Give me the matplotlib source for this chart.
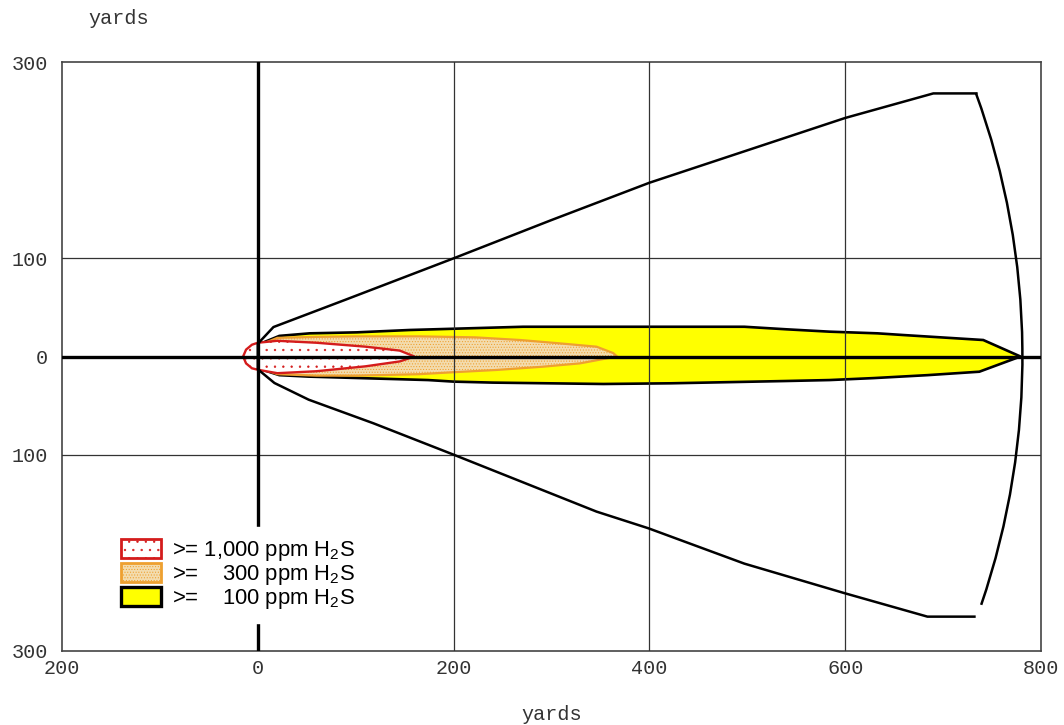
import matplotlib
matplotlib.use("Agg")
import matplotlib.pyplot as plt
from matplotlib.patches import Polygon, Arc, Patch

plt.rcParams["hatch.linewidth"] = 0.45
plt.rcParams["mathtext.fontset"] = "custom"
plt.rcParams["mathtext.rm"] = "Liberation Sans"

# Axis ticks (labels show distance, unsigned)
x_ticks = [-200, 0, 200, 400, 600, 800]
x_tick_labels = ["200", "0", "200", "400", "600", "800"]
y_ticks = [-300, -100, 0, 100, 300]
y_tick_labels = ["300", "100", "0", "100", "300"]
x_grid = [200, 400, 600]
y_grid = [-100, 100]

# Outer envelope (crosswind spread), yards
cone_upper_x = [0, 16, 90, 200, 300, 400, 500, 600, 690, 734]
cone_upper_y = [13, 30, 58, 100, 139, 177, 210, 243, 268, 268]
cone_lower_x = [0, 17, 52, 118, 200, 346, 399, 497, 599, 684, 732]
cone_lower_y = [-13, -27, -44, -68, -100, -158, -175, -211, -241, -265, -265]
arc_radius = 781
arc_theta_start = -18.9
arc_theta_end = 20.1

# >= 100 ppm contour
c100_upper_x = [-5, 0, 22, 53, 101, 155, 271, 400, 497, 540, 584, 633, 659, 741, 779]
c100_upper_y = [0, 12, 21, 23.6, 24.6, 27, 30.3, 30.3, 30.3, 27.7, 25.3, 23.6, 21.9, 16.8, 0]
c100_lower_x = [-5, 0, 22, 52, 174, 200, 240, 353, 422, 538, 584, 629, 684, 737, 779]
c100_lower_y = [0, -12, -19, -20.5, -24, -25.6, -26.6, -28, -27.3, -25, -24, -22, -19, -15.5, 0]

# >= 300 ppm contour
c300_upper_x = [-10, 0, 20, 60, 100, 165, 222, 268, 308, 346, 363, 367]
c300_upper_y = [0, 11, 19, 20, 20.5, 20.5, 19.5, 16.8, 13.4, 10, 3.5, 0]
c300_lower_x = [-10, 0, 20, 60, 100, 165, 200, 244, 291, 329, 356, 367]
c300_lower_y = [0, -11, -18, -19.5, -19.5, -18, -16, -13.7, -10.4, -7, -2, 0]

# >= 1,000 ppm contour
c1000_upper_x = [-15, -12, -6, 0, 20, 60, 110, 145, 160]
c1000_upper_y = [0, 7, 12, 14, 16, 14, 10, 6, 0]
c1000_lower_x = [-15, -12, -6, 0, 20, 60, 110, 145, 160]
c1000_lower_y = [0, -7, -12, -13.5, -17, -15, -10, -5, 0]

legend_labels = [
    r">= 1,000 ppm H$_\mathregular{2}$S",
    r">=    300 ppm H$_\mathregular{2}$S",
    r">=    100 ppm H$_\mathregular{2}$S",
]

RED = "#d41c1c"
ORANGE = "#eea030"
TAN = "#f3dcae"
YELLOW = "#ffff00"


def closed_outline(ux, uy, lx, ly):
    return list(zip(ux, uy)) + list(zip(lx[::-1], ly[::-1]))


fig = plt.figure(figsize=(10.64, 7.25), dpi=100)
ax = fig.add_axes([62 / 1064, 1 - 651 / 725, 979 / 1064, 589 / 725])
ax.set_xlim(-200, 800)
ax.set_ylim(-300, 300)

# Concentration contours
ax.add_patch(Polygon(closed_outline(c100_upper_x, c100_upper_y, c100_lower_x, c100_lower_y),
                     closed=True, facecolor=YELLOW, edgecolor="black", linewidth=1.9, zorder=1))
ax.add_patch(Polygon(closed_outline(c300_upper_x, c300_upper_y, c300_lower_x, c300_lower_y),
                     closed=True, facecolor=TAN, edgecolor=ORANGE, hatch="......",
                     linewidth=1.6, zorder=2))
ax.add_patch(Polygon(closed_outline(c1000_upper_x, c1000_upper_y, c1000_lower_x, c1000_lower_y),
                     closed=True, facecolor="white", edgecolor=RED, hatch="..",
                     linewidth=1.7, zorder=3))

# Grid
for gx in x_grid:
    ax.axvline(gx, color="#333333", linewidth=0.9, zorder=4)
for gy in y_grid:
    ax.axhline(gy, color="#333333", linewidth=0.9, zorder=4)

# Envelope
env_x = cone_upper_x[::-1] + cone_lower_x
env_y = cone_upper_y[::-1] + cone_lower_y
ax.plot(env_x, env_y, color="black", linewidth=1.8, zorder=5)
ax.add_patch(Arc((0, 0), 2 * arc_radius, 2 * arc_radius, theta1=arc_theta_start,
                 theta2=arc_theta_end, color="black", linewidth=1.8, zorder=5))

# Origin axes
ax.axhline(0, color="black", linewidth=2.4, zorder=6)
ax.axvline(0, color="black", linewidth=2.4, zorder=6)

# Ticks
mono = "Liberation Mono"
ax.set_xticks(x_ticks)
ax.set_xticklabels(x_tick_labels, fontfamily=mono, fontsize=14.5)
ax.set_yticks(y_ticks)
ax.set_yticklabels(y_tick_labels, fontfamily=mono, fontsize=14.5)
ax.tick_params(axis="both", length=0, colors="#333333")
ax.tick_params(axis="x", pad=6)
ax.tick_params(axis="y", pad=10)
for s in ax.spines.values():
    s.set_color("#444444")
    s.set_linewidth(1.2)

ax.set_xlabel("yards", fontfamily=mono, fontsize=14.5, labelpad=19, color="#333333")
fig.text(88 / 1064, 1 - 18 / 725, "yards", fontfamily=mono, fontsize=14.5,
         ha="left", va="center", color="#333333")

# Legend
handles = [
    Patch(facecolor="white", edgecolor=RED, hatch="..", linewidth=2.0),
    Patch(facecolor=TAN, edgecolor=ORANGE, hatch="......", linewidth=2.0),
    Patch(facecolor=YELLOW, edgecolor="black", linewidth=2.4),
]
leg = ax.legend(handles, legend_labels, loc="upper left",
                bbox_to_anchor=((98 - 62) / 979, (651 - 516) / 589),
                prop={"family": "Liberation Sans", "size": 15.8},
                frameon=True, facecolor="white", edgecolor="white", framealpha=1,
                fancybox=False, handlelength=1.82, handleheight=0.93,
                handletextpad=0.5, labelspacing=0.0, borderpad=0.55)
leg.set_zorder(10)

fig.savefig("out.png", dpi=100)
